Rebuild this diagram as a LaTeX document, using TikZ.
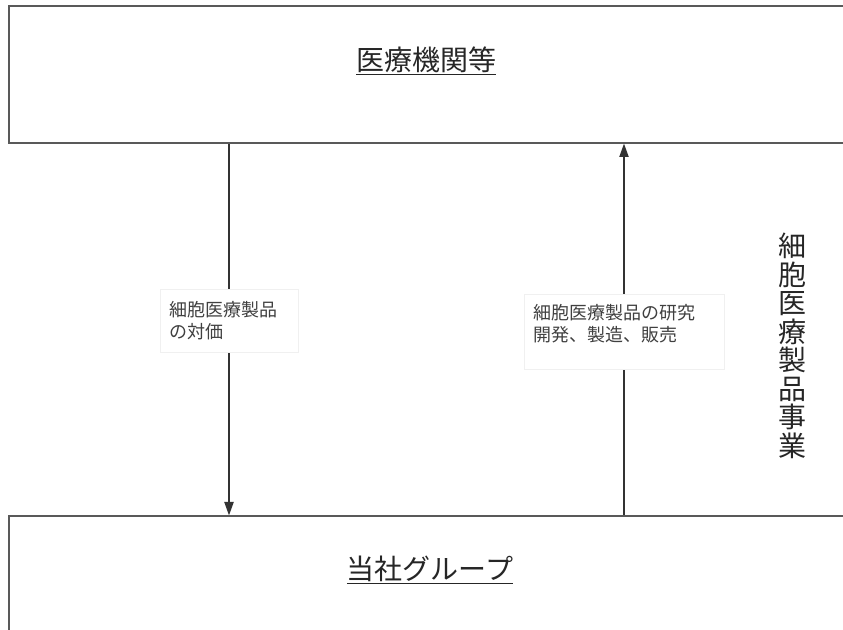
\documentclass[tikz,border=0pt]{standalone}
\usepackage{fontspec}
\newfontfamily\jpfont{Noto Sans CJK JP}
\usetikzlibrary{positioning}
\usetikzlibrary{arrows.meta}
\pgfdeclarelayer{flowbg}
\pgfsetlayers{flowbg,main}

\begin{document}
\begin{tikzpicture}[x=0.75pt, y=-0.75pt,
		partybox/.style={draw=black!65, line width=1pt, minimum width=627pt, minimum height=102.75pt, inner sep=0pt},
		partyname/.style={font=\jpfont\fontsize{21}{25}\selectfont, text=black!85},
		flowlabel/.style={draw=black!6, fill=white, font=\jpfont\fontsize{13.5}{16.5}\selectfont, text=black!75, align=left, inner xsep=7pt},
		flow/.style={draw=black!80, line width=0.8pt, -{Triangle[length=10pt, width=7pt]}}]
		\useasboundingbox (0,0) rectangle (843,630);
		\clip (0,0) rectangle (843,630);
		
		\node at (427,74.5) [partybox] (clinic) {};
		\node at (427,584.5) [partybox] (group) {};
		\node at (426,61) [partyname] (clinicname) {\underline{医療機関等}};
		\node at (430,570) [partyname] (groupname) {\underline{当社グループ}};
		
		\node at (229,321) [flowlabel, text width=89.5pt, minimum height=47pt] (price) {細胞医療製品\\の対価};
		\node at (624,332) [flowlabel, text width=136pt, text depth=30pt, minimum height=56pt] (rnd) {細胞医療製品の研究\\開発、製造、販売};
		
		\node at (792,346) [align=center, font=\jpfont\fontsize{21}{21.4}\selectfont, text=black!85] (business) {細\\胞\\医\\療\\製\\品\\事\\業};
		
		% arrows go under the white label boxes
		\begin{pgfonlayer}{flowbg}
		\draw [flow] (clinic.south -| price) -- (group.north -| price);
		\draw [flow] (group.north -| rnd) -- (clinic.south -| rnd);
		\end{pgfonlayer}
		
\end{tikzpicture}
\end{document}
